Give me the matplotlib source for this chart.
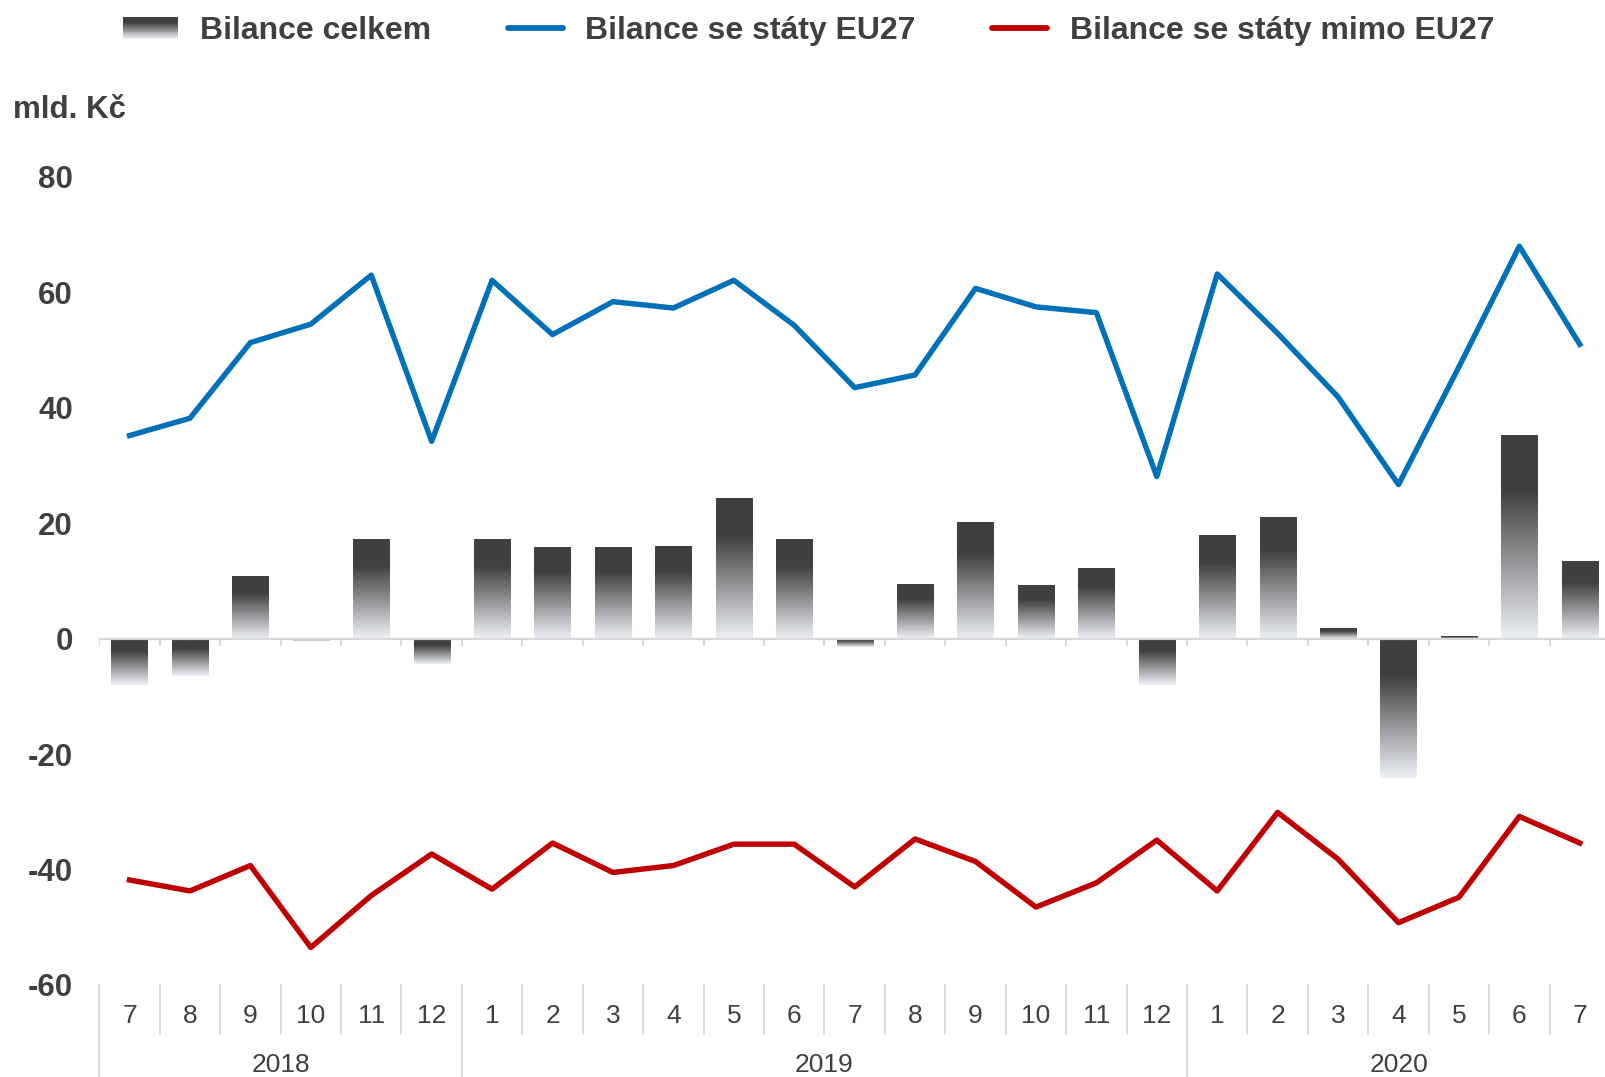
import numpy as np
import matplotlib
matplotlib.use("Agg")
import matplotlib.pyplot as plt
from matplotlib.colors import LinearSegmentedColormap
from matplotlib.patches import Rectangle, Patch
from matplotlib.lines import Line2D
from matplotlib.legend_handler import HandlerBase
import matplotlib.transforms as mtrans

plt.rcParams.update({"font.family": ["Liberation Sans", "DejaVu Sans"], "axes.unicode_minus": False})

TXT, GRID = "#404040", "#d9d9d9"
BLUE, RED = "#0070b8", "#c00000"

months = ["7", "8", "9", "10", "11", "12",
          "1", "2", "3", "4", "5", "6", "7", "8", "9", "10", "11", "12",
          "1", "2", "3", "4", "5", "6", "7"]
years = ["2018", "2019", "2020"]
year_len = [6, 12, 7]

total = [-8.0, -6.5, 10.8, -0.4, 17.3, -4.4,
         17.2, 15.8, 15.9, 16.1, 24.4, 17.2, -1.4, 9.4, 20.2, 9.2, 12.2, -8.0,
         17.9, 21.1, 1.9, -24.2, 0.5, 35.2, 13.5]
eu27 = [35.2, 38.2, 51.3, 54.5, 63.0, 34.2,
        62.1, 52.7, 58.4, 57.3, 62.1, 54.3, 43.5, 45.7, 60.7, 57.5, 56.5, 28.1,
        63.2, 52.9, 41.9, 26.7, 47.1, 68.0, 51.0]
non_eu = [-41.8, -43.7, -39.3, -53.5, -44.5, -37.3,
          -43.4, -35.4, -40.5, -39.3, -35.6, -35.6, -43.0, -34.7, -38.6, -46.5, -42.3, -34.9,
          -43.7, -30.1, -38.2, -49.2, -44.8, -30.8, -35.4]

grad_cm = LinearSegmentedColormap.from_list("g", [(0, "#404040"), (0.27, "#404040"), (1, "#eef1f6")])

W, H = 1605, 1077
fig = plt.figure(figsize=(W/100, H/100), dpi=100)
ax = fig.add_axes([99.3/W, 1-985/H, (1610-99.3)/W, (985-177)/H])

x = np.arange(len(months))
bars = ax.bar(x, total, width=0.6, color="none", zorder=2)
grad = np.linspace(0, 1, 256).reshape(-1, 1)
for b in bars:
    y0, y1 = b.get_y(), b.get_y() + b.get_height()
    ax.imshow(grad, extent=[b.get_x(), b.get_x()+b.get_width(), min(y0, y1), max(y0, y1)],
              origin="upper", aspect="auto", cmap=grad_cm, vmin=0, vmax=1, zorder=2)

ax.axhline(0, color=GRID, lw=1.6, zorder=3)
bounds = np.arange(len(months)+1) - 0.5
ax.vlines(bounds, -1.2, 0, color=GRID, lw=1.3, zorder=3)

ax.plot(x, eu27, color=BLUE, lw=3.9, zorder=4, solid_joinstyle="round")
ax.plot(x, non_eu, color=RED, lw=3.9, zorder=4, solid_joinstyle="round")

ax.set_xlim(-0.5, len(months)-0.5)
ax.set_ylim(-60, 80)
ax.set_yticks(range(-60, 81, 20))
ax.tick_params(axis="y", length=0, pad=19, labelsize=22.5, labelcolor=TXT)
for t in ax.get_yticklabels():
    t.set_fontweight("bold")
ax.set_xticks([])
for s in ax.spines.values():
    s.set_visible(False)

# multi-level category axis below the plot
tr = mtrans.blended_transform_factory(ax.transData, fig.transFigure)
ytop, ymon, yyr = 1-985/H, 1-1034/H, 0.0
year_edges = np.concatenate([[0], np.cumsum(year_len)]) - 0.5
for bx in bounds:
    low = yyr if bx in year_edges else ymon
    ax.add_line(Line2D([bx, bx], [ytop, low], transform=tr, color=GRID, lw=1.3, clip_on=False))
for i, m in enumerate(months):
    ax.text(i, 1-1016/H, m, transform=tr, ha="center", va="center", fontsize=19, color=TXT)
for k, yr in enumerate(years):
    ax.text((year_edges[k]+year_edges[k+1])/2, 1-1065/H, yr, transform=tr,
            ha="center", va="center", fontsize=19, color=TXT)

fig.text(13/W, 1-110/H, "mld. Kč", ha="left", va="center", fontsize=22.5, fontweight="bold", color=TXT)


class GradHandler(HandlerBase):
    def create_artists(self, legend, orig, xd, yd, width, height, fontsize, trans):
        n = 24
        out = []
        for i in range(n):
            r = Rectangle((-xd, -yd + height*(1-(i+1)/n)), width, height/n,
                          fc=grad_cm((i+0.5)/n), ec="none", transform=trans)
            out.append(r)
        return out


handles = [Patch(), Line2D([], [], color=BLUE, lw=4.2, solid_capstyle="round"),
           Line2D([], [], color=RED, lw=4.2, solid_capstyle="round")]
labels = ["Bilance celkem", "Bilance se státy EU27", "Bilance se státy mimo EU27"]
leg = fig.legend(handles, labels, loc="center left", bbox_to_anchor=(123/W, 1-31/H),
                 ncol=3, frameon=False, borderpad=0, borderaxespad=0, handlelength=1.72,
                 handletextpad=0.7, columnspacing=2.4, handler_map={Patch: GradHandler()},
                 prop={"size": 23, "weight": "bold"})
for t in leg.get_texts():
    t.set_color(TXT)

fig.savefig("out.png", dpi=100)
